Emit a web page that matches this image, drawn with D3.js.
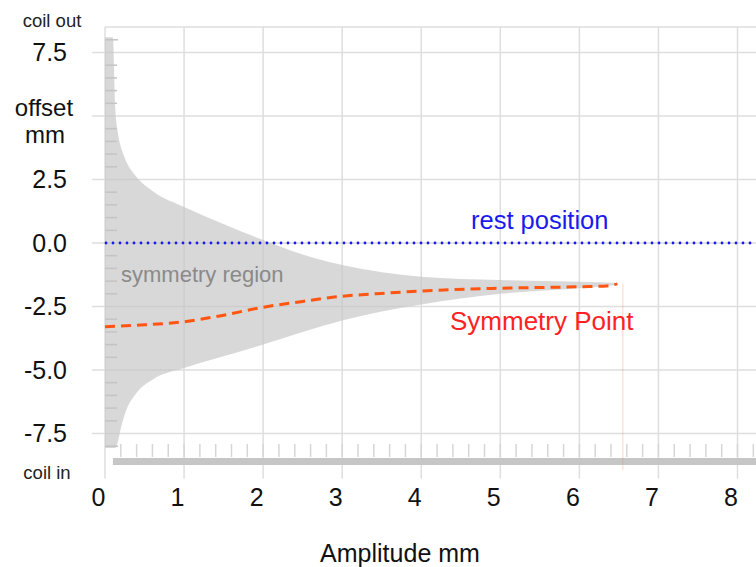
<!DOCTYPE html>
<html>
<head>
<meta charset="utf-8">
<script src="https://cdn.jsdelivr.net/npm/d3@7"></script>
<style>
  html, body { margin: 0; padding: 0; background: #fff; }
  svg { display: block; font-family: "Liberation Sans", Arial, sans-serif; }
</style>
</head>
<body>
<svg id="chart" width="756" height="567"></svg>
<script>
// Amplitude (mm) samples for the symmetry-region envelope
const regionAmp   = [0, 0.1, 0.13, 0.16, 0.2, 0.25, 0.4, 0.6, 1.0, 1.4, 2.0, 2.5, 3.0, 3.5, 4.0, 5.0, 6.0, 6.48];
const regionUpper = [8.1, 8.1, 5.3, 4.4, 3.8, 3.35, 2.6, 2.05, 1.42, 0.88, 0.12, -0.45, -0.87, -1.15, -1.33, -1.46, -1.53, -1.57];
const regionLower = [-8.07, -8.07, -8.07, -7.85, -7.3, -6.75, -5.9, -5.38, -4.92, -4.55, -4.0, -3.5, -3.05, -2.7, -2.42, -2.0, -1.78, -1.65];

// Symmetry point offset versus amplitude
const symAmp    = [0, 0.5, 1.0, 1.4, 2.0, 2.5, 2.9, 3.57, 4.0, 5.0, 6.05, 6.35, 6.48];
const symOffset = [-3.3, -3.22, -3.1, -2.9, -2.53, -2.3, -2.13, -1.97, -1.89, -1.78, -1.72, -1.69, -1.61];

// Maximum amplitude reached and start of the amplitude range bar
const maxAmplitude = 6.55;
const barStart = 0.1;
const restPosition = 0;

// Ticks
const xTicks = [0, 1, 2, 3, 4, 5, 6, 7, 8];
const yGrid = [7.5, 5, 2.5, 0, -2.5, -5, -7.5];
const yLabelTicks = [7.5, 2.5, 0, -2.5, -5, -7.5];

const svg = d3.select("#chart");
const W = 756;

const x = d3.scaleLinear().domain([0, 8]).range([105, 737.5]);
const y = d3.scaleLinear().domain([7.5, -7.5]).range([52.5, 433.5]);
const yTop = y.invert(27), yBottom = y.invert(478.5);
const xMax = x.invert(W + 5);

const gridColor = "#dedede";

// Grid: horizontal lines
svg.append("g").selectAll("line").data(yGrid).join("line")
  .attr("x1", 92).attr("x2", W)
  .attr("y1", d => y(d)).attr("y2", d => y(d))
  .attr("stroke", gridColor).attr("stroke-width", 1.5);
// top border
svg.append("line")
  .attr("x1", x(0)).attr("x2", W).attr("y1", y(yTop)).attr("y2", y(yTop))
  .attr("stroke", gridColor).attr("stroke-width", 1.5);
// Grid: vertical lines
svg.append("g").selectAll("line").data(xTicks).join("line")
  .attr("x1", d => x(d)).attr("x2", d => x(d))
  .attr("y1", y(yTop)).attr("y2", y(yBottom))
  .attr("stroke", gridColor).attr("stroke-width", 1.5);

// Symmetry region envelope
const regionData = regionAmp.map((a, i) => ({ a, hi: regionUpper[i], lo: regionLower[i] }));
svg.append("path")
  .datum(regionData)
  .attr("d", d3.area()
    .x(d => x(d.a)).y0(d => y(d.lo)).y1(d => y(d.hi))
    .curve(d3.curveMonotoneX))
  .attr("fill", "#c6c6c6").attr("fill-opacity", 0.68);

// Minor offset ticks every 0.5 mm
const minorY = d3.range(-16, 17).map(k => k / 2).filter(v => Math.abs(v / 2.5 - Math.round(v / 2.5)) > 1e-6);
svg.append("g").selectAll("line").data(minorY).join("line")
  .attr("x1", x(0)).attr("x2", d => Math.abs(d) === 8 ? x(0) + 13 : x(0) + 12)
  .attr("y1", d => y(d)).attr("y2", d => y(d))
  .attr("stroke", "#c4c4c4").attr("stroke-width", 1.5);

// Minor amplitude ticks every 0.2 mm
const minorX = d3.range(1, Math.floor(xMax / 0.2) + 1).map(k => +(k * 0.2).toFixed(1));
svg.append("g").selectAll("line").data(minorX).join("line")
  .attr("x1", d => x(d)).attr("x2", d => x(d))
  .attr("y1", 444).attr("y2", 457)
  .attr("stroke", "#d6d6d6").attr("stroke-width", 1.5);

// Amplitude range bar
svg.append("rect")
  .attr("x", x(barStart)).attr("y", 458)
  .attr("width", x(xMax) - x(barStart)).attr("height", 7)
  .attr("fill", "#c6c6c6");

// Max amplitude marker
svg.append("line")
  .attr("x1", x(maxAmplitude)).attr("x2", x(maxAmplitude))
  .attr("y1", y(-1.6)).attr("y2", 470)
  .attr("stroke", "#ff7050").attr("stroke-opacity", 0.3).attr("stroke-width", 1);

// Rest position
svg.append("line")
  .attr("x1", x(0) + 1).attr("x2", W)
  .attr("y1", y(restPosition)).attr("y2", y(restPosition))
  .attr("stroke", "#1a1aee").attr("stroke-width", 2.8)
  .attr("stroke-linecap", "round").attr("stroke-dasharray", "0,7");

// Symmetry point curve
const symData = symAmp.map((a, i) => ({ a, v: symOffset[i] }));
svg.append("path")
  .datum(symData)
  .attr("d", d3.line().x(d => x(d.a)).y(d => y(d.v)).curve(d3.curveMonotoneX))
  .attr("fill", "none").attr("stroke", "#ff5511").attr("stroke-width", 3)
  .attr("stroke-dasharray", "10,6");

// Axis labels
const yAxis = d3.axisLeft(y).tickValues(yLabelTicks).tickSize(0).tickPadding(0)
  .tickFormat(v => v.toFixed(1));
const gy = svg.append("g").attr("transform", "translate(67,0)").call(yAxis);
gy.select(".domain").remove();
gy.selectAll("text").attr("font-size", 25).attr("fill", "#111")
  .attr("font-family", "Liberation Sans, Arial, sans-serif");

const xAxis = d3.axisBottom(x).tickValues(xTicks).tickSize(0).tickPadding(0)
  .tickFormat(d3.format("d"));
const gx = svg.append("g").attr("transform", "translate(-7,488)").call(xAxis);
gx.select(".domain").remove();
gx.selectAll("text").attr("font-size", 25).attr("fill", "#111")
  .attr("font-family", "Liberation Sans, Arial, sans-serif");

// Text annotations
function label(t, px, py, size, color, anchor) {
  svg.append("text").attr("x", px).attr("y", py)
    .attr("font-size", size).attr("fill", color)
    .attr("text-anchor", anchor || "start").text(t);
}
label("coil out", 52, 27, 18.5, "#222", "middle");
label("coil in", 47, 479, 18.5, "#222", "middle");
label("offset", 44, 116, 24, "#111", "middle");
label("mm", 45, 143, 24, "#111", "middle");
label("Amplitude mm", 400, 562, 25, "#111", "middle");
label("rest position", 471, 229, 25.5, "#1a1aee");
label("Symmetry Point", 450, 330, 26, "#ff2222");
label("symmetry region", 121, 282, 22, "#8a8a8a");
</script>
</body>
</html>
